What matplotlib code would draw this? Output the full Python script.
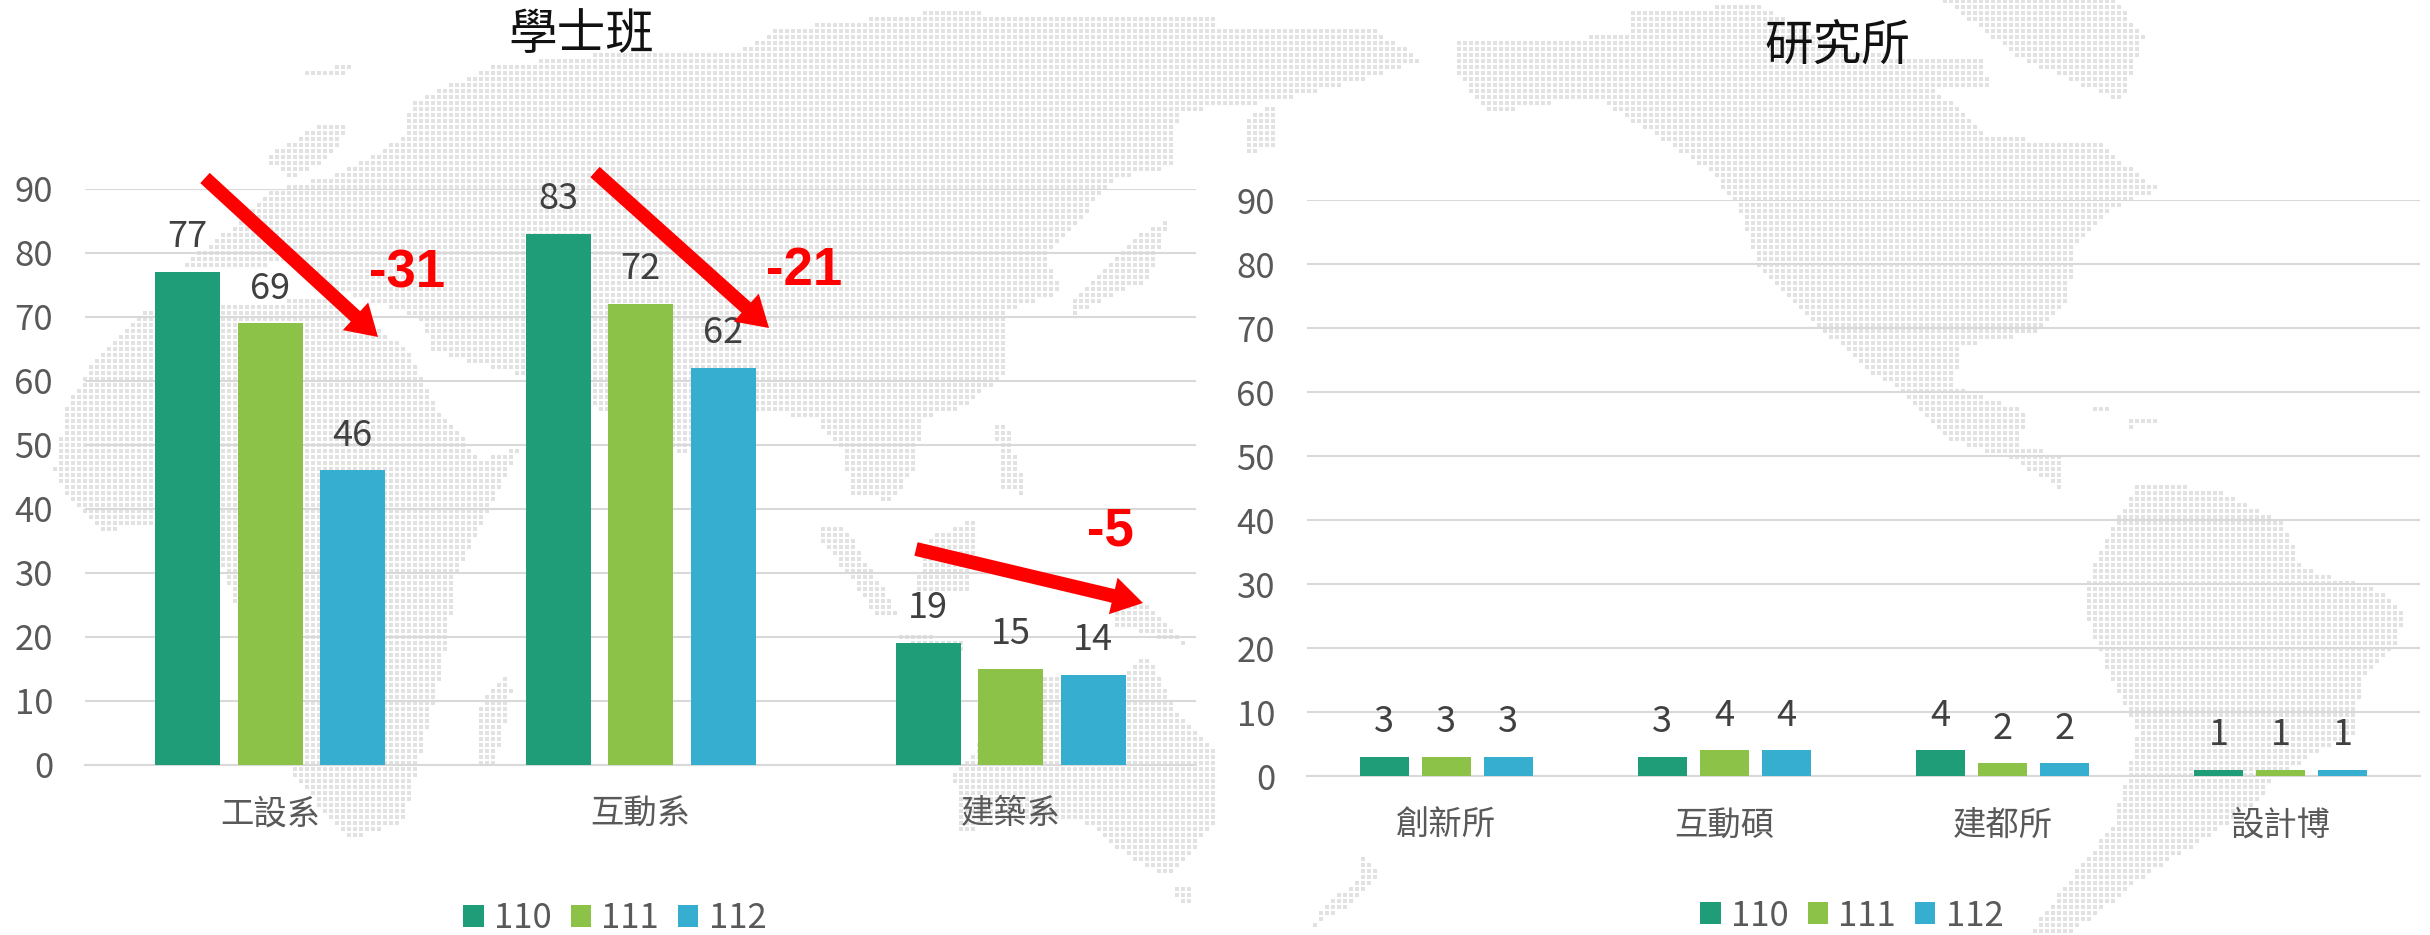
import numpy as np
from matplotlib import pyplot as plt
from matplotlib.path import Path

plt.rcParams['font.family'] = ['Noto Sans CJK TC', 'DejaVu Sans']

years = ['110', '111', '112']
colors = ['#1F9C78', '#8CC248', '#35AECF']

under_cats = ['工設系', '互動系', '建築系']
under_110 = [77, 83, 19]
under_111 = [69, 72, 15]
under_112 = [46, 62, 14]

grad_cats = ['創新所', '互動碩', '建都所', '設計博']
grad_110 = [3, 3, 4, 1]
grad_111 = [3, 4, 2, 1]
grad_112 = [3, 4, 2, 1]

yticks = [0, 10, 20, 30, 40, 50, 60, 70, 80, 90]

# rough outlines of the dotted world map behind the charts
map_left = [
    [(230,450),(300,380),(350,320),(440,290),(520,230),(530,170),(640,110),(780,90),(950,90),(1000,50),
     (1200,20),(1568,30),(1568,180),(1520,190),(1510,280),(1440,300),(1350,430),(1370,490),(1300,520),
     (1300,620),(1250,680),(1190,700),(1180,790),(1150,840),(1100,830),(1085,750),(1050,700),(980,690),
     (880,760),(700,640),(560,590),(540,530),(440,490),(380,440),(300,450)],
    [(190,520),(430,500),(530,590),(560,680),(620,770),(670,750),(640,830),(590,960),(570,1130),(540,1280),
     (520,1380),(450,1410),(410,1350),(370,1283),(330,1100),(290,970),(280,900),(200,880),(130,890),
     (85,830),(70,790),(85,680),(120,610)],
    [(340,265),(420,205),(450,210),(430,260),(380,300)],
    [(395,120),(460,105),(440,130),(400,132)],
    [(615,1280),(620,1180),(650,1130),(660,1160),(640,1280)],
    [(1060,880),(1090,885),(1160,1030),(1130,1030),(1060,905)],
    [(1200,900),(1260,870),(1250,990),(1180,990)],
    [(1160,1060),(1240,1075),(1240,1090),(1160,1075)],
    [(1285,715),(1300,715),(1325,830),(1290,820)],
    [(1430,1000),(1480,1010),(1530,1080),(1440,1050)],
    [(1470,390),(1510,370),(1480,470),(1380,530),(1380,510)],
    [(1230,1300),(1340,1130),(1450,1130),(1480,1100),(1520,1200),(1568,1260),(1568,1380),(1510,1470),
     (1460,1440),(1400,1380),(1300,1370),(1240,1400)],
    [(1515,1490),(1540,1490),(1535,1520),(1520,1520)],
]
map_right = [
    [(0,45),(200,45),(270,100),(200,130),(80,170),(80,240),(40,265),(40,200),(80,170),(0,180)],
    [(310,70),(530,60),(540,15),(700,10),(830,90),(990,100),(1000,150),(930,150),(1000,230),(1140,240),
     (1220,320),(1170,340),(1140,370),(1110,410),(1100,510),(1060,560),(960,580),(955,650),(1045,690),
     (1040,750),(1090,760),(1090,820),(1030,770),(950,740),(890,660),(840,620),(790,560),(700,450),
     (675,340),(630,280),(500,170),(450,170),(350,190),(310,120)],
    [(940,0),(1160,0),(1200,60),(1170,170),(1040,100)],
    [(1190,810),(1290,820),(1380,880),(1400,950),(1500,990),(1535,1030),(1520,1090),(1480,1140),(1470,1230),
     (1370,1300),(1340,1350),(1260,1420),(1200,1470),(1140,1530),(1100,1568),(1050,1568),(1100,1480),
     (1160,1380),(1190,1230),(1150,1120),(1120,1020),(1130,950),(1160,880)],
    [(185,1425),(215,1465),(170,1520),(120,1560),(140,1520),(190,1470)],
    [(1130,675),(1165,690),(1130,695)],
    [(1175,700),(1215,705),(1180,720)],
]

W, H = 2430, 935
fig = plt.figure(figsize=(W / 100, H / 100), dpi=100)

# background map in pixel coordinates
bg = fig.add_axes([0, 0, 1, 1], zorder=0)
bg.set_xlim(0, W)
bg.set_ylim(H, 0)
bg.axis('off')
gx, gy = np.meshgrid(np.arange(1, W, 6), np.arange(1, H, 6))
grid = np.column_stack([gx.ravel(), gy.ravel()])
mask = np.zeros(len(grid), dtype=bool)
for x0, polys in [(0, map_left), (1215, map_right)]:
    for p in polys:
        p = np.array(p, dtype=float)
        mask |= Path(np.column_stack([x0 + p[:, 0] / 1.29, p[:, 1] / 1.677])).contains_points(grid)
bg.scatter(grid[mask, 0], grid[mask, 1], s=6, marker='s', color='#e2e2e2', linewidths=0)


def make_axes(x0, x1, y0, y90, cats, series, bar_w, step, pad):
    ax = fig.add_axes([x0 / W, 1 - y0 / H, (x1 - x0) / W, (y0 - y90) / H], zorder=1)
    ax.patch.set_alpha(0)
    span = (x1 - x0) / len(cats)
    x = np.arange(len(cats))
    for i, vals in enumerate(series):
        b = ax.bar(x + (i - 1) * step / span, vals, bar_w / span, color=colors[i], label=years[i], zorder=3)
        ax.bar_label(b, padding=12, fontsize=26, color='#404040')
    ax.set_xlim(-0.5, len(cats) - 0.5)
    ax.set_ylim(0, 90)
    ax.set_yticks(yticks)
    ax.set_xticks(x)
    ax.set_xticklabels(cats)
    ax.grid(axis='y', color='#d9d9d9', linewidth=1.5, zorder=1)
    ax.set_axisbelow(True)
    for s in ['top', 'right', 'left']:
        ax.spines[s].set_visible(False)
    ax.spines['bottom'].set_color('#d9d9d9')
    ax.spines['bottom'].set_linewidth(1.5)
    ax.tick_params(axis='y', length=0, pad=pad, labelsize=25, labelcolor='#595959')
    ax.tick_params(axis='x', length=0, pad=23, labelsize=24, labelcolor='#595959')
    return ax


ax1 = make_axes(85, 1196, 764.5, 189, under_cats, [under_110, under_111, under_112], 65, 82.5, 23)
ax2 = make_axes(1307, 2420, 776, 200, grad_cats, [grad_110, grad_111, grad_112], 49, 62, 23)

for ax, lx, ly in [(ax1, 615, 919), (ax2, 1852, 916)]:
    ax.legend(loc='center', bbox_to_anchor=(lx, ly), bbox_transform=bg.transData, ncol=3, frameon=False,
              fontsize=25, labelcolor='#595959', handlelength=0.58, handleheight=0.58, handletextpad=0.3,
              columnspacing=0.55, borderpad=0)

# overlay for titles, arrows and differences
over = fig.add_axes([0, 0, 1, 1], zorder=2)
over.set_xlim(0, W)
over.set_ylim(H, 0)
over.axis('off')
over.text(581, 35, '學士班', fontsize=35, color='#111111', ha='center', va='center')
over.text(1837, 47, '研究所', fontsize=35, color='#111111', ha='center', va='center')

arrow_from = [(205, 178), (595, 172), (916, 549)]
arrow_to = [(378, 337), (769, 328), (1143, 603)]
diff_text = ['-31', '-21', '-5']
diff_pos = [(407, 273), (804, 271), (1110, 532)]
for a, b, t, p in zip(arrow_from, arrow_to, diff_text, diff_pos):
    over.annotate('', xy=b, xytext=a,
                  arrowprops=dict(arrowstyle='simple,head_width=27,head_length=22,tail_width=10',
                                  mutation_scale=1, color='#ff0000', shrinkA=0, shrinkB=0, linewidth=0))
    over.text(p[0], p[1], t, fontsize=38, fontweight='bold', color='#ff0000', family='Liberation Sans',
              ha='center', va='center')

plt.savefig('out.png', dpi=100)
